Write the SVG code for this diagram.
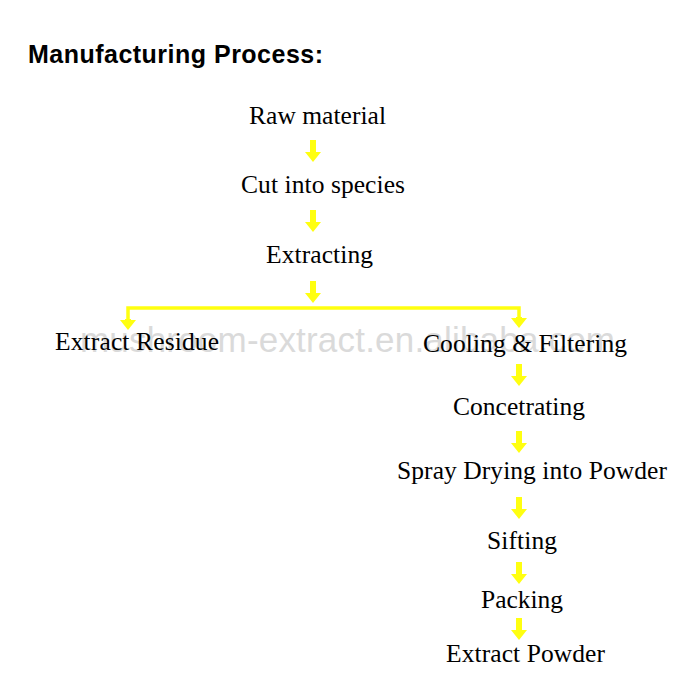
<svg xmlns="http://www.w3.org/2000/svg" xmlns:xlink="http://www.w3.org/1999/xlink" width="700" height="700" viewBox="0 0 700 700">
  <style>
    .title { font-family: "Liberation Sans", Arial, sans-serif; font-weight: bold; font-size: 25px; fill: #000; }
    .step { font-family: "Liberation Serif", "Times New Roman", serif; font-size: 25.5px; fill: #000; text-anchor: middle; }
    .wm { font-family: "Liberation Sans", Arial, sans-serif; font-size: 35px; fill: #dadada; }
    .arrow { fill: #ffff10; }
    .line { stroke: #ffff10; stroke-width: 3.5; fill: none; }
  </style>
  <defs>
    <path id="arr" class="arrow" d="M-3,0 H3 V12 H8 L0,22 L-8,12 H-3 Z"/>
  </defs>
  <rect width="700" height="700" fill="#fff"/>

  <text class="title" x="28" y="63" textLength="295">Manufacturing Process:</text>
  <text class="wm" x="80" y="352" textLength="535">mushroom-extract.en.alibaba.com</text>

  <g id="connectors">
    <use xlink:href="#arr" x="313" y="140"/>
    <use xlink:href="#arr" x="313" y="210"/>
    <use xlink:href="#arr" x="313" y="281"/>
    <path class="line" d="M128,320 V308 H519 V318"/>
    <path class="arrow" d="M125,319 H131 V320 H136 L128,330 L120,320 H125 Z"/>
    <path class="arrow" d="M516,317 H522 V318 H527 L519,328 L511,318 H516 Z"/>
    <use xlink:href="#arr" x="519" y="364"/>
    <use xlink:href="#arr" x="519" y="431"/>
    <use xlink:href="#arr" x="519" y="497"/>
    <use xlink:href="#arr" x="519" y="562"/>
    <use xlink:href="#arr" x="519" y="618"/>
  </g>

  <g id="raw-material"><text class="step" x="317.5" y="124" textLength="137">Raw material</text></g>
  <g id="cut-into-species"><text class="step" x="323" y="193" textLength="164">Cut into species</text></g>
  <g id="extracting"><text class="step" x="319.5" y="263" textLength="107">Extracting</text></g>
  <g id="extract-residue"><text class="step" x="137" y="350" textLength="164">Extract Residue</text></g>
  <g id="cooling-filtering"><text class="step" x="525" y="352" textLength="204">Cooling &amp; Filtering</text></g>
  <g id="concetrating"><text class="step" x="519" y="415" textLength="132">Concetrating</text></g>
  <g id="spray-drying"><text class="step" x="532" y="479" textLength="270">Spray Drying into Powder</text></g>
  <g id="sifting"><text class="step" x="522" y="549" textLength="70">Sifting</text></g>
  <g id="packing"><text class="step" x="522" y="608" textLength="82">Packing</text></g>
  <g id="extract-powder"><text class="step" x="525.5" y="662" textLength="159">Extract Powder</text></g>
</svg>
